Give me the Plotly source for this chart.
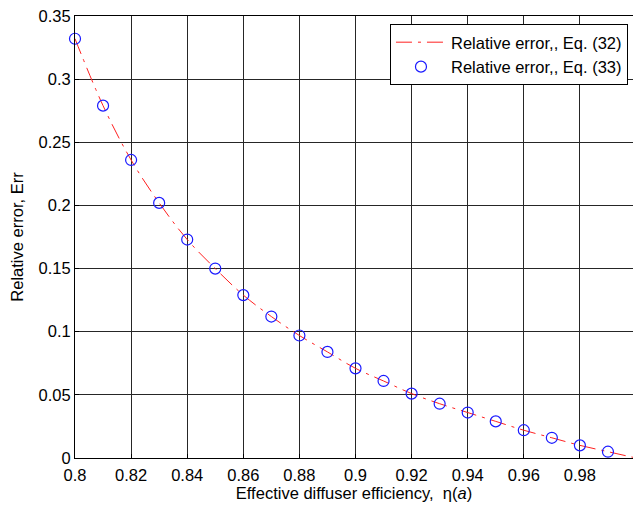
import plotly.graph_objects as go

eta = [0.80, 0.81, 0.82, 0.83, 0.84, 0.85, 0.86, 0.87, 0.88, 0.89, 0.90,
       0.91, 0.92, 0.93, 0.94, 0.95, 0.96, 0.97, 0.98, 0.99, 1.00]
err_eq32 = [0.332, 0.279, 0.236, 0.202, 0.173, 0.150, 0.129, 0.112, 0.097, 0.084, 0.071,
            0.061, 0.051, 0.043, 0.036, 0.029, 0.022, 0.016, 0.010, 0.005, 0.000]
err_eq33 = [0.332, 0.279, 0.236, 0.202, 0.173, 0.150, 0.129, 0.112, 0.097, 0.084, 0.071,
            0.061, 0.051, 0.043, 0.036, 0.029, 0.022, 0.016, 0.010, 0.005, 0.000]
x_ticks = [0.8, 0.82, 0.84, 0.86, 0.88, 0.9, 0.92, 0.94, 0.96, 0.98]
x_tick_text = ["0.8", "0.82", "0.84", "0.86", "0.88", "0.9", "0.92", "0.94", "0.96", "0.98"]
y_ticks = [0, 0.05, 0.1, 0.15, 0.2, 0.25, 0.3, 0.35]
y_tick_text = ["0", "0.05", "0.1", "0.15", "0.2", "0.25", "0.3", "0.35"]

FONT = "Liberation Sans, Arial, sans-serif"
FS = 16.5

fig = go.Figure()
fig.add_trace(go.Scatter(
    x=eta, y=err_eq32, mode="lines", name="Relative error,, Eq. (32)",
    line=dict(color="#ff2020", width=1, dash="16px,6px,3px,6px", shape="spline"),
))
fig.add_trace(go.Scatter(
    x=eta, y=err_eq33, mode="markers", name="Relative error,, Eq. (33)",
    marker=dict(symbol="circle-open", size=11, color="#1a1aff", line=dict(width=1.2)),
    cliponaxis=False,
))

axis_common = dict(
    showgrid=True, gridcolor="#262626", gridwidth=1,
    showline=True, linecolor="#000000", linewidth=1, mirror=True,
    ticks="inside", ticklen=4, tickcolor="#000000",
    zeroline=False, automargin=False,
    tickfont=dict(family=FONT, size=FS, color="#000000"),
)

fig.update_layout(
    width=633, height=508,
    paper_bgcolor="white", plot_bgcolor="white",
    margin=dict(l=75, r=0, t=16, b=50),
    font=dict(family=FONT, color="#000000"),
    showlegend=True,
    hovermode=False,
    legend=dict(
        x=0.991, y=0.982, xanchor="right", yanchor="top",
        bgcolor="white", bordercolor="#000000", borderwidth=1,
        font=dict(family=FONT, size=FS, color="#000000"),
        tracegroupgap=0, itemwidth=50,
    ),
    xaxis=dict(
        range=[0.8, 0.99893],
        tickvals=x_ticks, ticktext=x_tick_text,
        ticklabelstandoff=2,
        title=dict(text="Effective diffuser efficiency,  η(<i>a</i>)",
                   font=dict(family=FONT, size=FS), standoff=2),
        **axis_common,
    ),
    yaxis=dict(
        range=[0, 0.35],
        tickvals=y_ticks, ticktext=y_tick_text,
        title=dict(text="Relative error, Err",
                   font=dict(family=FONT, size=FS), standoff=10),
        **axis_common,
    ),
)

fig.write_html("out.html", config={"displayModeBar": False, "staticPlot": True},
               post_script="document.body.style.margin='0px';")
